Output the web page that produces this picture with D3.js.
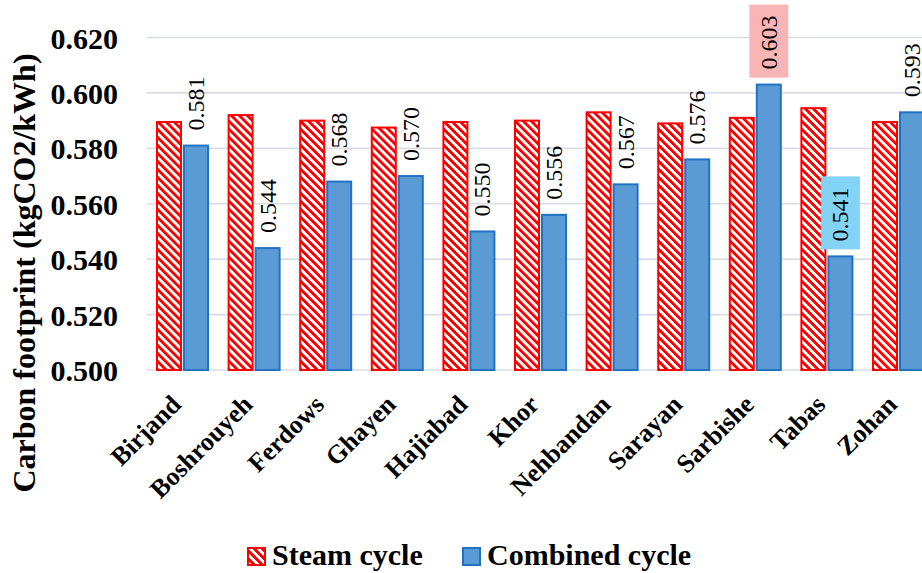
<!DOCTYPE html>
<html>
<head>
<meta charset="utf-8">
<script src="https://cdn.jsdelivr.net/npm/d3@7"></script>
<style>
  html, body { margin: 0; padding: 0; background: #fff; }
  svg { display: block; }
</style>
</head>
<body>
<svg id="chart" width="922" height="573"></svg>
<script>
// Carbon footprint of steam vs combined cycle plants by city
const cities = ["Birjand", "Boshrouyeh", "Ferdows", "Ghayen", "Hajiabad", "Khor",
                "Nehbandan", "Sarayan", "Sarbishe", "Tabas", "Zohan"];
const steamCycle = [0.5895, 0.592, 0.590, 0.5875, 0.5895, 0.590, 0.593, 0.589, 0.591, 0.5945, 0.5895];
const combinedCycle = [0.581, 0.544, 0.568, 0.570, 0.550, 0.556, 0.567, 0.576, 0.603, 0.541, 0.593];
const seriesNames = ["Steam cycle", "Combined cycle"];
const yTicks = [0.500, 0.520, 0.540, 0.560, 0.580, 0.600, 0.620];

const SERIF = '"Liberation Serif", "Times New Roman", serif';
const svg = d3.select("#chart").style("font-family", SERIF);
const W = 922;

const x0 = d3.scaleBand().domain(cities).range([146.7, 146.7 + 71.6 * cities.length]);
const x1 = d3.scaleBand().domain(seriesNames).range([10.3, 61.3]).paddingInner(0.111);
const y = d3.scaleLinear().domain([0.5, 0.62]).range([370, 37.5]);

// Stepped downward-diagonal hatch
const defs = svg.append("defs");
const pat = defs.append("pattern")
  .attr("id", "hatch").attr("patternUnits", "userSpaceOnUse")
  .attr("width", 8).attr("height", 8);
pat.append("rect").attr("width", 8).attr("height", 8).attr("fill", "#fff");
for (let r = 0; r < 8; r++) {
  for (let k = 0; k < 4; k++) {
    pat.append("rect").attr("x", (r + k) % 8).attr("y", r)
      .attr("width", 1).attr("height", 1).attr("fill", "#FF0000")
      .attr("shape-rendering", "crispEdges");
  }
}

// Gridlines
svg.append("g").selectAll("line").data(yTicks).join("line")
  .attr("x1", x0.range()[0]).attr("x2", W)
  .attr("y1", d => y(d)).attr("y2", d => y(d))
  .attr("stroke", "#D9DDE3").attr("stroke-width", 1.6);

// Y tick labels
const yAxis = d3.axisLeft(y).tickValues(yTicks).tickSize(0).tickFormat(d3.format(".3f"));
const gy = svg.append("g").attr("transform", "translate(118,0)").call(yAxis)
  .attr("font-family", null).attr("font-size", null);
gy.select(".domain").remove();
gy.selectAll("text")
  .attr("x", 0).attr("dy", "0.35em")
  .style("font-family", SERIF)
  .style("font-size", "30px").style("font-weight", "bold").attr("fill", "#000");

// Y axis title
svg.append("text")
  .attr("transform", "translate(34.6,273) rotate(-90)")
  .attr("text-anchor", "middle")
  .style("font-family", SERIF)
  .style("font-size", "32px").style("font-weight", "bold")
  .text("Carbon footprint (kgCO2/kWh)");

// Bars
const rows = cities.map((c, i) => ({ city: c, steam: steamCycle[i], combined: combinedCycle[i] }));
const groups = svg.append("g").selectAll("g").data(rows).join("g")
  .attr("transform", d => `translate(${x0(d.city)},0)`);

groups.append("rect")
  .attr("x", x1("Steam cycle")).attr("width", x1.bandwidth())
  .attr("y", d => y(d.steam)).attr("height", d => y(0.5) - y(d.steam))
  .attr("fill", "url(#hatch)").attr("stroke", "#FF0000").attr("stroke-width", 2);

groups.append("rect")
  .attr("x", x1("Combined cycle")).attr("width", x1.bandwidth())
  .attr("y", d => y(d.combined)).attr("height", d => y(0.5) - y(d.combined))
  .attr("fill", "#5B9BD5").attr("stroke", "#2272C3").attr("stroke-width", 2);

// Value labels on combined cycle bars; highest and lowest get a coloured box
const maxC = d3.max(combinedCycle), minC = d3.min(combinedCycle);
groups.each(function (d) {
  const g = d3.select(this);
  const cx = x1("Combined cycle") + x1.bandwidth() / 2;
  const lg = g.append("g").attr("transform", `translate(${cx},${y(d.combined) - 15}) rotate(-90)`);
  const box = lg.append("rect");
  const t = lg.append("text")
    .attr("x", 0).attr("y", 0)
    .attr("dominant-baseline", "central")
    .style("font-family", SERIF)
    .style("font-size", "24px").attr("fill", "#000")
    .text(d3.format(".3f")(d.combined));
  const len = t.node().getComputedTextLength();
  if (d.combined === maxC || d.combined === minC) {
    box.attr("x", -8).attr("width", len + 19)
      .attr("y", -19.5).attr("height", 39)
      .attr("fill", d.combined === maxC ? "#F9B5B5" : "#82D3F5");
  } else {
    box.remove();
  }
});

// Category labels
svg.append("g").selectAll("text").data(cities).join("text")
  .attr("transform", d => `translate(${x0(d) + x0.bandwidth() / 2},406) rotate(-45)`)
  .attr("text-anchor", "end")
  .style("font-family", SERIF)
  .style("font-size", "26px").style("font-weight", "bold")
  .text(d => d);

// Legend
const legend = svg.append("g");
const legendItems = [
  { name: seriesNames[0], fill: "url(#hatch)", stroke: "#FF0000", x: 248 },
  { name: seriesNames[1], fill: "#5B9BD5", stroke: "#2272C3", x: 463 }
];
legendItems.forEach(it => {
  legend.append("rect").attr("x", it.x).attr("y", 548).attr("width", 17).attr("height", 17)
    .attr("fill", it.fill).attr("stroke", it.stroke).attr("stroke-width", 2);
  legend.append("text").attr("x", it.x + 24).attr("y", 565)
    .style("font-family", SERIF)
    .style("font-size", "30px").style("font-weight", "bold").text(it.name);
});
</script>
</body>
</html>
